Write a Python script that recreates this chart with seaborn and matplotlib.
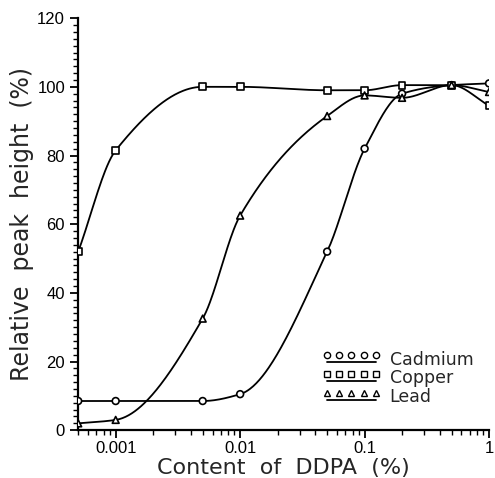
import numpy as np
import pandas as pd
import matplotlib
matplotlib.use("Agg")
import matplotlib.pyplot as plt
import matplotlib.ticker as mticker
from matplotlib.lines import Line2D
from matplotlib.legend_handler import HandlerLine2DCompound
import seaborn as sns

content = [0.0005, 0.001, 0.005, 0.01, 0.05, 0.1, 0.2, 0.5, 1.0]
cadmium = [8.5, 8.5, 8.5, 10.5, 52.0, 82.0, 98.0, 100.5, 101.0]
copper = [52.0, 81.5, 100.0, 100.0, 99.0, 99.0, 100.5, 100.5, 94.5]
lead = [2.0, 3.0, 32.5, 62.5, 91.5, 97.5, 96.8, 100.5, 98.5]
series_names = ["Cadmium", "Copper", "Lead"]
markers = {"Cadmium": "o", "Copper": "s", "Lead": "^"}
xticks = [0.001, 0.01, 0.1, 1]
xticklabels = ["0.001", "0.01", "0.1", "1"]
yticks = [0, 20, 40, 60, 80, 100, 120]


def pchip(x, y, xn):
    x = np.asarray(x, float); y = np.asarray(y, float)
    h = np.diff(x); d = np.diff(y) / h
    n = len(x); m = np.zeros(n)
    for k in range(1, n - 1):
        if d[k - 1] * d[k] > 0:
            w1 = 2 * h[k] + h[k - 1]; w2 = h[k] + 2 * h[k - 1]
            m[k] = (w1 + w2) / (w1 / d[k - 1] + w2 / d[k])
    m[0] = d[0]; m[-1] = d[-1]
    idx = np.clip(np.searchsorted(x, xn) - 1, 0, n - 2)
    t = (xn - x[idx]) / h[idx]
    h00 = 2 * t**3 - 3 * t**2 + 1; h10 = t**3 - 2 * t**2 + t
    h01 = -2 * t**3 + 3 * t**2; h11 = t**3 - t**2
    return h00 * y[idx] + h10 * h[idx] * m[idx] + h01 * y[idx + 1] + h11 * h[idx] * m[idx + 1]


class UnderlineHandler(HandlerLine2DCompound):
    def create_artists(self, legend, orig_handle, xdescent, ydescent, width, height, fontsize, trans):
        arts = super().create_artists(legend, orig_handle, xdescent, ydescent, width, height, fontsize, trans)
        line, mk = arts[0], arts[1]
        yl = np.asarray(line.get_ydata(), float)
        ym = np.asarray(mk.get_ydata(), float)
        mk.set_ydata(ym + 2.5)
        line.set_ydata(yl - 2.5)
        line.set_color("black")
        line.set_linestyle("-")
        line.set_linewidth(1.3)
        return arts


sns.set_style("ticks")
plt.rcParams["font.family"] = ["Liberation Sans", "DejaVu Sans"]

fig = plt.figure(figsize=(4.95, 4.78), dpi=100)
ax = fig.add_axes([0.158, 0.10, 0.830, 0.862])

points = pd.DataFrame({
    "content": content * 3,
    "value": cadmium + copper + lead,
    "metal": sum([[s] * len(content) for s in series_names], []),
})

lx = np.log10(content)
xs = np.linspace(lx[0], lx[-1], 400)
curves = []
for name, vals in zip(series_names, [cadmium, copper, lead]):
    ys = pchip(lx, vals, xs)
    curves.append(pd.DataFrame({"content": 10**xs, "value": ys, "metal": name}))
curves = pd.concat(curves)

sns.lineplot(data=curves, x="content", y="value", units="metal", estimator=None,
             color="black", lw=1.3, ax=ax, legend=False, zorder=2)
sns.scatterplot(data=points, x="content", y="value", style="metal", markers=markers,
                facecolor="white", edgecolor="black", linewidth=1.2, s=24,
                ax=ax, legend=False, zorder=3)

ax.set_xscale("log")
ax.set_xlim(0.0005, 1.0)
ax.set_ylim(0, 120)
ax.set_xticks(xticks)
ax.set_xticklabels(xticklabels)
ax.xaxis.set_minor_locator(mticker.LogLocator(base=10, subs=np.arange(2, 10)))
ax.xaxis.set_minor_formatter(mticker.NullFormatter())
ax.set_yticks(yticks)
ax.yaxis.set_minor_locator(mticker.MultipleLocator(2))
ax.tick_params(which="major", direction="out", length=6, width=1.3, labelsize=12, colors="black")
ax.tick_params(axis="x", which="major", pad=2)
ax.tick_params(which="minor", direction="out", length=3.5, width=1.0, colors="black")
for sp in ["left", "bottom"]:
    ax.spines[sp].set_linewidth(1.6)
    ax.spines[sp].set_color("black")
sns.despine(ax=ax)
ax.set_xlabel("Content  of  DDPA  (%)", fontsize=16, labelpad=1, family="DejaVu Sans")
ax.set_ylabel("Relative  peak  height  (%)", fontsize=17, labelpad=2, family="DejaVu Sans")

handles = [Line2D([], [], color="black", lw=1.3, marker=markers[n], markersize=4.5,
                  markerfacecolor="white", markeredgecolor="black") for n in series_names]
ax.legend(handles, series_names, loc="lower right", bbox_to_anchor=(1.0, 0.02),
          frameon=False, numpoints=5, handlelength=3.4, handletextpad=0.5,
          labelspacing=0.05, prop={"family": "DejaVu Sans", "size": 12.5},
          handler_map={Line2D: UnderlineHandler()})

fig.savefig("out.png", dpi=100)
